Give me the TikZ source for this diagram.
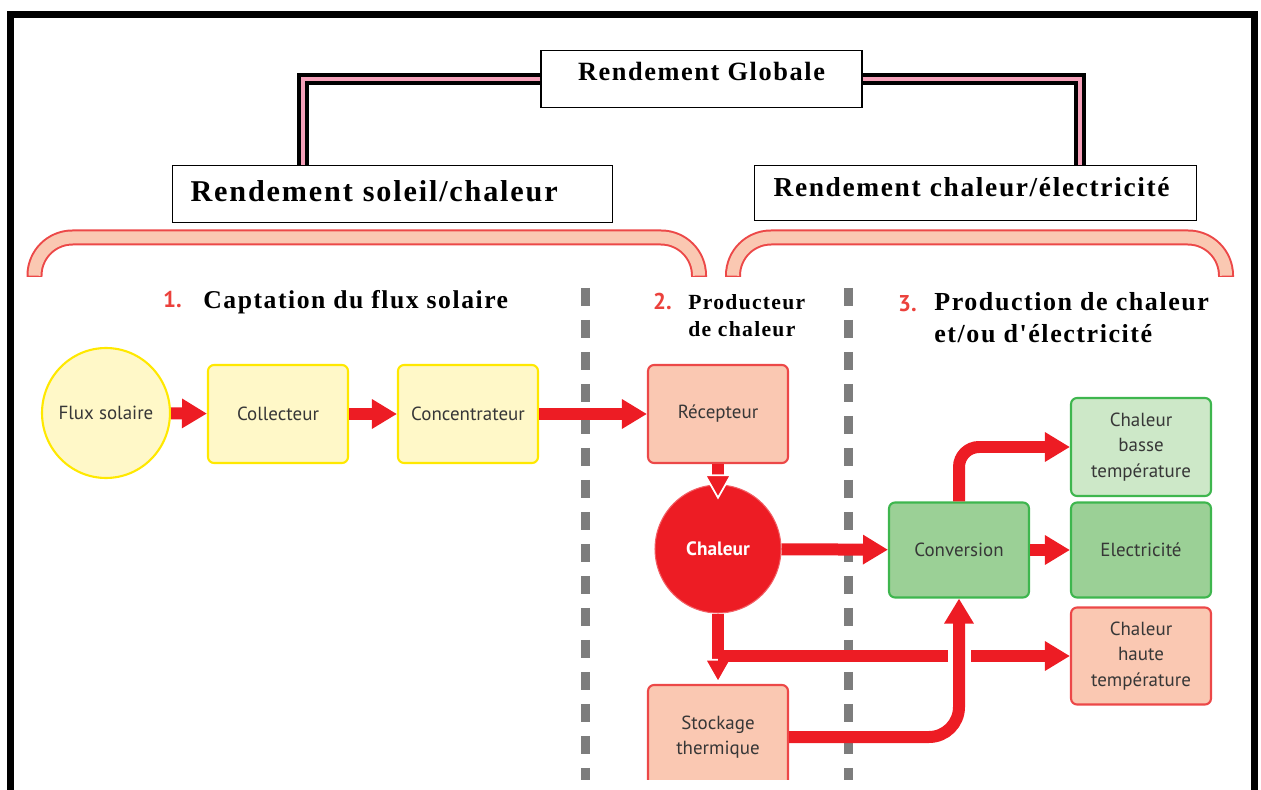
\documentclass[tikz,border=0pt]{standalone}
\usepackage{fontspec}
\setmainfont{Liberation Serif}
\newfontfamily\headfont[LetterSpace=6]{Liberation Serif}
\newfontfamily\boxfont{PT Sans}
\usepackage{tikz}
\usetikzlibrary{shapes.geometric,arrows.meta,positioning}
\definecolor{rouge}{RGB}{237,28,36}
\definecolor{numrouge}{RGB}{235,65,60}
\definecolor{jaunefond}{RGB}{255,248,200}
\definecolor{jaunetrait}{RGB}{255,232,0}
\definecolor{saumonfond}{RGB}{250,200,178}
\definecolor{saumontrait}{RGB}{236,72,72}
\definecolor{vertfond}{RGB}{155,208,150}
\definecolor{vertclair}{RGB}{205,232,200}
\definecolor{verttrait}{RGB}{62,182,78}
\definecolor{textegris}{RGB}{55,55,55}
\definecolor{rose}{RGB}{245,160,185}
\definecolor{tirets}{RGB}{125,125,125}

\begin{document}
\begin{tikzpicture}[x=0.02cm, y=-0.02cm,
	titre/.style={draw, line width=0.7pt, rectangle, inner ysep=0pt},
	etape/.style={draw, rectangle, rounded corners=0.12cm, line width=1.2pt,
		minimum width=2.8cm, minimum height=1.96cm, align=center,
		text=textegris, font=\boxfont\fontsize{10.8}{14.5}\selectfont},
	jaune/.style={etape, fill=jaunefond, draw=jaunetrait},
	saumon/.style={etape, fill=saumonfond, draw=saumontrait},
	vert/.style={etape, fill=vertfond, draw=verttrait},
	vertpale/.style={etape, fill=vertclair, draw=verttrait},
	fleche/.style={draw=rouge, line width=0.24cm,
		-{Triangle[length=0.5cm, width=0.56cm]}},
	lien/.style={draw=black, line width=0.08cm, double=rose, double distance=0.08cm},
	num/.style={text=numrouge, font=\boxfont\bfseries\fontsize{13}{15}\selectfont, anchor=base west},
	etiquette/.style={font=\headfont\bfseries, anchor=north west, align=left, inner sep=0pt}]
	\useasboundingbox (0,0) rectangle (1261,790);
	% cadre
	\draw[line width=0.14cm] (10.5,790) |- (1254.5,14.5) -- (1254.5,790);
	%% Rendements
	\node [titre, text height=0.6cm, text depth=0.54cm, minimum width=6.42cm,
		font=\headfont\bfseries\fontsize{15}{17}\selectfont] (glob) at (701.5,50) [anchor=north] {Rendement Globale};
	\node [titre, text height=0.72cm, text depth=0.42cm, inner xsep=0.36cm, text width=8.08cm, align=left,
		font=\headfont\bfseries\fontsize{17.2}{19}\selectfont] (soleil) at (172,165) [anchor=north west] {Rendement soleil/chaleur};
	\node [titre, text height=0.62cm, text depth=0.48cm, inner xsep=0.38cm, text width=8.08cm, align=left,
		font=\headfont\bfseries\fontsize{15.6}{17}\selectfont] (elec) at (754,165) [anchor=north west] {Rendement chaleur/électricité};
	\path [lien] (glob.west) -| ([xshift=2.62cm]soleil.north west);
	\path [lien] (glob.east) -| ([xshift=6.52cm]elec.north west);
	%% Accolades
	\foreach \a/\b in {34.5/699, 733/1226}{
		\draw[saumontrait, line width=0.32cm, rounded corners=0.76cm] (\a,277) |- (\b,237.5) -- (\b,277);
		\draw[saumonfond, line width=0.24cm, rounded corners=0.76cm, shorten <=0.04cm, shorten >=0.04cm]
			(\a,277) |- (\b,237.5) -- (\b,277);
	}
	%% Separations
	\begin{scope}
		\clip (0,280) rectangle (1261,779);
		\draw[tirets, line width=0.17cm, dash pattern=on 0.36cm off 0.28cm] (585.5,288) -- (585.5,790);
		\draw[tirets, line width=0.17cm, dash pattern=on 0.36cm off 0.28cm] (848.5,288) -- (848.5,790);
	\end{scope}
	%% Titres des etapes
	\node [num] (n1) at (157,308) {1.};
	\node [etiquette, font=\headfont\bfseries\fontsize{14.6}{16}\selectfont] (capt) at (203,290) {Captation du flux solaire};
	\node [etiquette, font=\headfont\bfseries\fontsize{12.3}{15.4}\selectfont] (prod) at (688,294) {Producteur\\de chaleur};
	\node [num] (n2) at (647,310) {2.};
	\node [etiquette, font=\headfont\bfseries\fontsize{14.8}{18}\selectfont] (prodelec) at (934,292) {Production de chaleur\\et/ou d'électricité};
	\node [num] (n3) at (892,312) {3.};
	%% Etapes
	\node [jaune, ellipse, inner sep=0pt, minimum width=2.56cm, minimum height=2.6cm] (flux) at (106,413) {\makebox[0pt]{Flux solaire}};
	\node [jaune] (coll) at (278,414) {Collecteur};
	\node [jaune] (conc) at (468,414) {Concentrateur};
	\node [saumon] (recep) at (718,414) {Récepteur};
	\node [ellipse, fill=rouge, draw=rouge!70!white, line width=0.6pt, minimum width=2.52cm, minimum height=2.56cm,
		text=white, font=\boxfont\bfseries\fontsize{11}{13}\selectfont] (chal) at (718,549) {Chaleur};
	\begin{scope}
		\clip (0,600) rectangle (1261,779);
		\node [saumon, minimum height=2.08cm] (stock) at (718,737) {Stockage\\thermique};
	\end{scope}
	\node [vert, minimum height=1.9cm] (conv) at (959,550) {Conversion};
	\node [vertpale] (basse) at (1141,447) {Chaleur\\basse\\température};
	\node [vert, minimum height=1.9cm] (electr) at (1141,550) {Electricité};
	\node [saumon, minimum height=1.94cm] (haute) at (1141,656) {Chaleur\\haute\\température};
	%% Liens
	\path [fleche] (flux) -- (coll);
	\path [fleche] (coll) -- (conc);
	\path [fleche] (conc) -- (recep);
	\path [draw=rouge, line width=0.24cm, shorten >=-0.3cm,
		-{Triangle[length=0.5cm, width=0.56cm, color=white, fill=rouge, line width=1pt]}] (recep) -- (chal);
	\path [fleche] (chal) -- (conv);
	\path [fleche] (conv) -- (electr);
	\path [fleche, rounded corners=0.4cm] (conv.north) |- (basse.west);
	\path [draw=rouge, line width=0.24cm,
		-{Triangle[length=0.5cm, width=0.56cm, color=white, fill=rouge, line width=1pt]}] (chal) -- (stock.north);
	\coordinate (branche) at (chal.south |- haute.west);
	\path [fleche] (branche) -- (haute.west);
	\draw [white, line width=0.46cm] (959,640) -- (959,672);
	\path [fleche, rounded corners=0.6cm] (stock.east) -| (conv.south);
\end{tikzpicture}
\end{document}
